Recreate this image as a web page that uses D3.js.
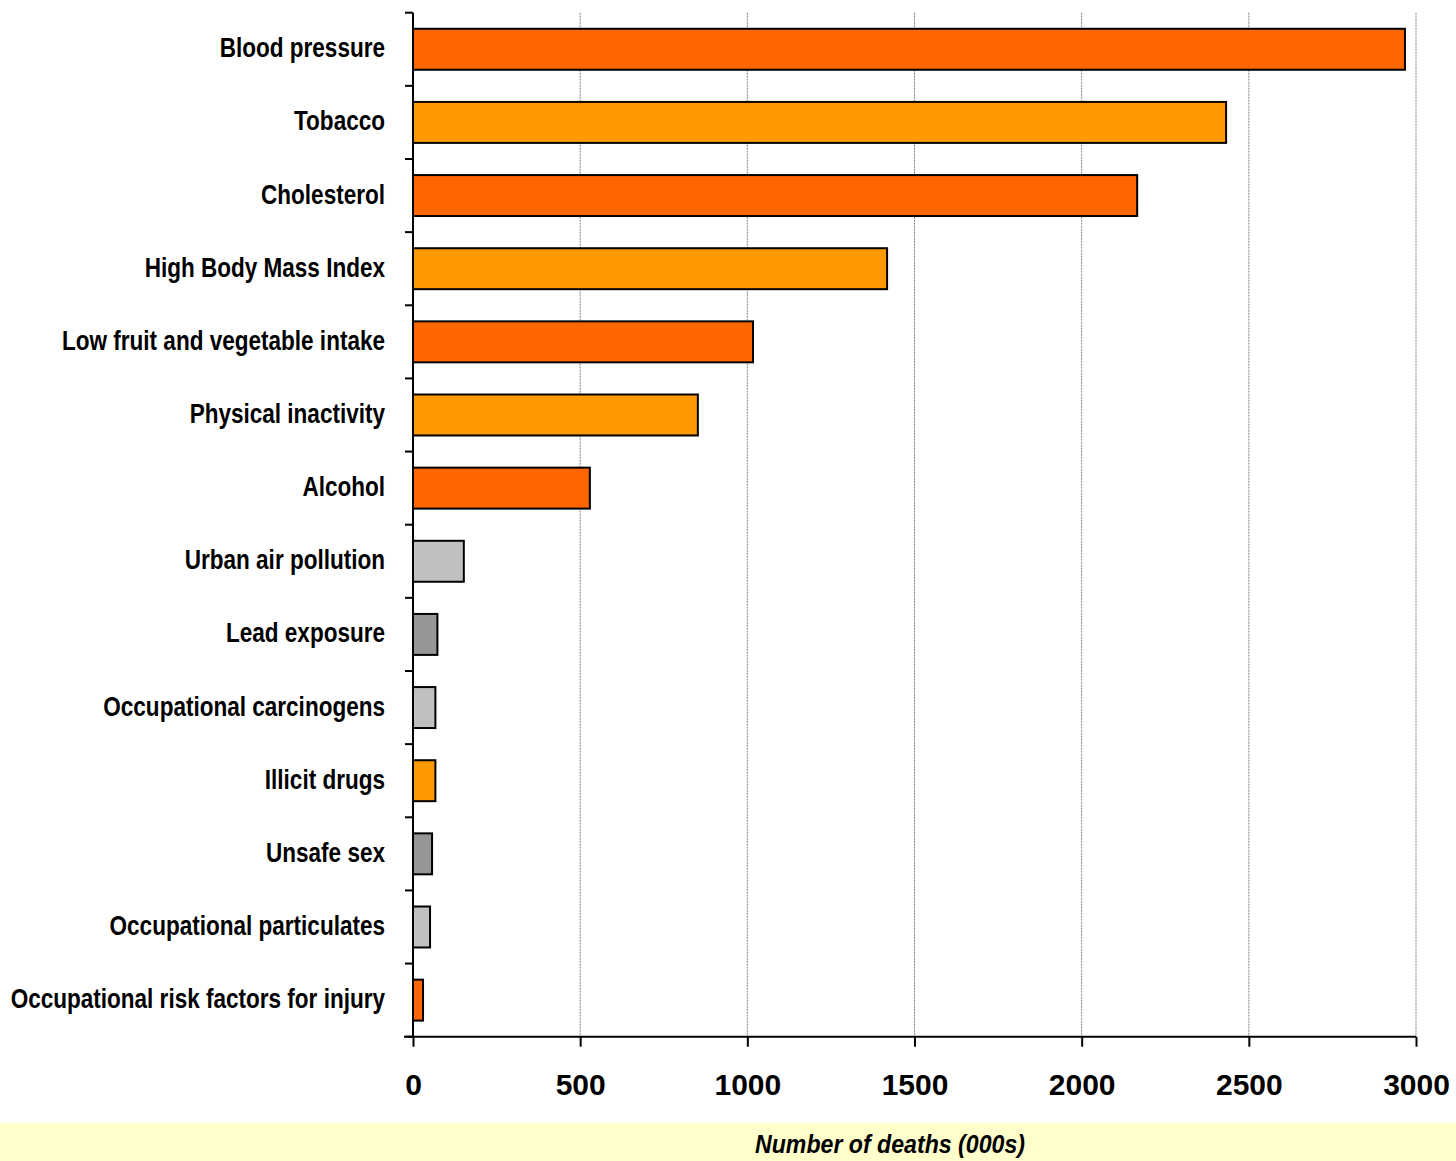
<!DOCTYPE html>
<html lang="en">
<head>
    <meta charset="UTF-8">
    <title>Deaths by risk factor</title>
    <script src="https://d3js.org/d3.v7.min.js"></script>
    <style>
        body { margin: 0; background: white; }
        svg { display: block; }
        text { font-family: "Liberation Sans", Arial, sans-serif; fill: black; }
    </style>
</head>
<body>
<div id="chart"></div>
<script>
    /*---------------- data ----------------*/
    const categories = [
        "Blood pressure", "Tobacco", "Cholesterol", "High Body Mass Index",
        "Low fruit and vegetable intake", "Physical inactivity", "Alcohol",
        "Urban air pollution", "Lead exposure", "Occupational carcinogens",
        "Illicit drugs", "Unsafe sex", "Occupational particulates",
        "Occupational risk factors for injury"
    ];
    const deaths = [2967, 2432, 2166, 1418, 1017, 852, 529, 152, 73, 67, 67, 57, 51, 30];
    // colour group of each bar
    const groups = ["a", "b", "a", "b", "a", "b", "a", "c", "d", "c", "b", "d", "c", "a"];
    const xTicks = [0, 500, 1000, 1500, 2000, 2500, 3000];
    const xTitle = "Number of deaths (000s)";

    const groupColors = { a: "#ff6600", b: "#ff9900", c: "#c0c0c0", d: "#969696" };

    /*---------------- setup ----------------*/
    const width = 1456, height = 1161;
    const svg = d3.select("#chart").append("svg")
        .attr("width", width)
        .attr("height", height);

    const x = d3.scaleLinear().domain([0, 3000]).range([413, 1416]);
    const y = d3.scaleBand()
        .domain(categories)
        .range([12.7, 1036.7])
        .paddingInner(0.44)
        .paddingOuter(0.22);

    const yTop = y.range()[0], yBottom = y.range()[1];
    const step = y.step();

    // title strip at the bottom
    svg.append("rect")
        .attr("x", 0).attr("y", 1123)
        .attr("width", width).attr("height", height - 1123)
        .attr("fill", "#ffffcc");

    // dotted vertical grid
    svg.append("g").selectAll("line")
        .data(xTicks.slice(1))
        .join("line")
        .attr("x1", d => x(d)).attr("x2", d => x(d))
        .attr("y1", yTop).attr("y2", yBottom)
        .attr("stroke", "#808080")
        .attr("stroke-width", 1)
        .attr("stroke-dasharray", "2,1");

    // bars
    svg.append("g").selectAll("rect")
        .data(categories)
        .join("rect")
        .attr("x", x(0))
        .attr("y", d => y(d))
        .attr("width", (d, i) => x(deaths[i]) - x(0))
        .attr("height", y.bandwidth())
        .attr("fill", (d, i) => groupColors[groups[i]])
        .attr("stroke", "black")
        .attr("stroke-width", 2);

    // category labels (narrow bold)
    svg.append("g").selectAll("text")
        .data(categories)
        .join("text")
        .attr("transform", d => `translate(385,${y(d) + y.bandwidth() / 2 + 8}) scale(0.805,1)`)
        .attr("text-anchor", "end")
        .attr("font-size", 28)
        .attr("font-weight", "bold")
        .text(d => d);

    // y axis line + ticks at band boundaries
    const yAxis = svg.append("g").attr("stroke", "black").attr("stroke-width", 2);
    yAxis.append("line")
        .attr("x1", x(0)).attr("x2", x(0))
        .attr("y1", yTop).attr("y2", yBottom);
    yAxis.selectAll(".btick")
        .data(d3.range(categories.length + 1))
        .join("line")
        .attr("class", "btick")
        .attr("x1", x(0) - 8).attr("x2", x(0))
        .attr("y1", i => yTop + i * step).attr("y2", i => yTop + i * step);

    // x axis
    const xAxisG = svg.append("g")
        .attr("transform", `translate(0,${yBottom})`)
        .call(d3.axisBottom(x).tickValues(xTicks).tickFormat(d3.format("d"))
            .tickSize(10).tickSizeOuter(0));
    xAxisG.select(".domain").attr("d", `M${x(0) - 9},0H${x(3000)}`)
        .attr("stroke-width", 2);
    xAxisG.selectAll(".tick line").attr("stroke-width", 2);
    xAxisG.selectAll(".tick text")
        .attr("y", 58).attr("dy", 0)
        .attr("font-size", 30)
        .attr("font-weight", "bold")
        .attr("font-family", "Liberation Sans, Arial, sans-serif")
        .attr("fill", "black");

    // axis title
    svg.append("text")
        .attr("transform", "translate(890,1153) scale(0.89,1)")
        .attr("text-anchor", "middle")
        .attr("font-size", 26)
        .attr("font-weight", "bold")
        .attr("font-style", "italic")
        .text(xTitle);
</script>
</body>
</html>
